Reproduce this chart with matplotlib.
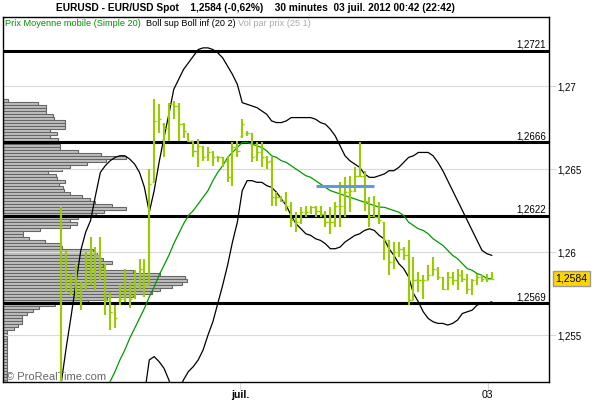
import matplotlib
matplotlib.use("Agg")
import matplotlib.pyplot as plt
import matplotlib.transforms as mtransforms
import numpy as np

plt.rcParams["font.family"] = ["Liberation Sans", "DejaVu Sans"]

NAN = np.nan

# EUR/USD 30 minute bars, oldest first
opens = [
    1.2511, 1.2595, 1.2580, 1.2583, 1.2577, 1.2580, 1.2594, 1.2589, 1.2598, 1.2590,
    1.2571, 1.2564, 1.2571, 1.2572, 1.2577, 1.2574, 1.2580, 1.2590, 1.2580, 1.2642,
    1.2679, 1.2677, 1.2675, 1.2689, 1.2688, 1.2677, 1.2672, 1.2667, 1.2661, 1.2664,
    1.2658, 1.2660, 1.2657, 1.2657, 1.2655, 1.2645, 1.2663, 1.2670, 1.2672, 1.2672,
    1.2658, 1.2660, 1.2657, 1.2655, 1.2633, 1.2633, 1.2631, 1.2628, 1.2619, 1.2618,
    1.2624, 1.2624, 1.2627, 1.2625, 1.2623, 1.2618, 1.2618, 1.2628, 1.2628, 1.2636,
    1.2637, 1.2646, 1.2646, 1.2631, 1.2622, 1.2621, 1.2618, 1.2607, 1.2594, 1.2600,
    1.2602, 1.2598, 1.2571, 1.2583, 1.2583, 1.2583, 1.2586, 1.2590, 1.2585, 1.2578,
    1.2585, 1.2583, 1.2586, 1.2584, 1.2578, 1.2583, 1.2585, 1.2584, 1.2584,
]
highs = [
    1.2627, 1.2601, 1.2587, 1.2593, 1.2582, 1.2600, 1.2609, 1.2603, 1.2609, 1.2593,
    1.2576, 1.2568, 1.2580, 1.2590, 1.2582, 1.2589, 1.2596, 1.2596, 1.2650, 1.2692,
    1.2689, 1.2678, 1.2690, 1.2691, 1.2690, 1.2678, 1.2672, 1.2667, 1.2668, 1.2664,
    1.2663, 1.2661, 1.2658, 1.2657, 1.2658, 1.2666, 1.2667, 1.2680, 1.2673, 1.2672,
    1.2666, 1.2666, 1.2658, 1.2657, 1.2636, 1.2634, 1.2636, 1.2630, 1.2624, 1.2627,
    1.2628, 1.2628, 1.2628, 1.2628, 1.2625, 1.2627, 1.2630, 1.2642, 1.2645, 1.2646,
    1.2651, 1.2666, 1.2649, 1.2633, 1.2634, 1.2630, 1.2618, 1.2607, 1.2606, 1.2606,
    1.2603, 1.2607, 1.2597, 1.2588, 1.2586, 1.2592, 1.2597, 1.2591, 1.2585, 1.2588,
    1.2588, 1.2590, 1.2589, 1.2587, 1.2584, 1.2587, 1.2586, 1.2587, 1.2588,
]
lows = [
    1.2499, 1.2576, 1.2574, 1.2572, 1.2565, 1.2577, 1.2580, 1.2577, 1.2583, 1.2562,
    1.2553, 1.2554, 1.2568, 1.2570, 1.2566, 1.2572, 1.2577, 1.2573, 1.2580, 1.2642,
    1.2672, 1.2657, 1.2667, 1.2680, 1.2667, 1.2669, 1.2666, 1.2657, 1.2651, 1.2655,
    1.2655, 1.2652, 1.2654, 1.2651, 1.2642, 1.2640, 1.2657, 1.2669, 1.2670, 1.2654,
    1.2655, 1.2651, 1.2650, 1.2628, 1.2628, 1.2630, 1.2625, 1.2615, 1.2612, 1.2617,
    1.2621, 1.2623, 1.2621, 1.2621, 1.2615, 1.2611, 1.2615, 1.2615, 1.2621, 1.2624,
    1.2636, 1.2645, 1.2625, 1.2615, 1.2621, 1.2617, 1.2595, 1.2586, 1.2590, 1.2597,
    1.2595, 1.2568, 1.2571, 1.2576, 1.2572, 1.2583, 1.2586, 1.2583, 1.2577, 1.2577,
    1.2580, 1.2577, 1.2582, 1.2575, 1.2574, 1.2580, 1.2582, 1.2582, 1.2584,
]
closes = [
    1.2595, 1.2580, 1.2583, 1.2577, 1.2580, 1.2594, 1.2589, 1.2598, 1.2590, 1.2571,
    1.2564, 1.2560, 1.2572, 1.2577, 1.2572, 1.2580, 1.2590, 1.2580, 1.2641, 1.2679,
    1.2680, 1.2675, 1.2689, 1.2688, 1.2677, 1.2673, 1.2667, 1.2661, 1.2664, 1.2657,
    1.2660, 1.2657, 1.2657, 1.2655, 1.2645, 1.2663, 1.2661, 1.2677, 1.2672, 1.2657,
    1.2660, 1.2657, 1.2654, 1.2633, 1.2633, 1.2631, 1.2628, 1.2619, 1.2618, 1.2624,
    1.2624, 1.2627, 1.2625, 1.2623, 1.2618, 1.2618, 1.2628, 1.2628, 1.2636, 1.2637,
    1.2646, 1.2646, 1.2631, 1.2622, 1.2621, 1.2619, 1.2607, 1.2594, 1.2600, 1.2602,
    1.2598, 1.2571, 1.2583, 1.2583, 1.2583, 1.2586, 1.2590, 1.2585, 1.2578, 1.2585,
    1.2583, 1.2586, 1.2584, 1.2578, 1.2583, 1.2585, 1.2584, 1.2584, 1.2584,
]

# indicator values as drawn on the chart
sma20 = [
    NAN, NAN, NAN, NAN, NAN, NAN, NAN, NAN, NAN, 1.2516,
    1.2522, 1.2528, 1.2535, 1.2541, 1.2548, 1.2554, 1.2560, 1.2566, 1.2573, 1.2579,
    1.2586, 1.2592, 1.2598, 1.2605, 1.2611, 1.2617, 1.2622, 1.2625, 1.2629, 1.2633,
    1.2637, 1.2643, 1.2648, 1.2652, 1.2657, 1.2660, 1.2663, 1.2666, 1.2666, 1.2665,
    1.2664, 1.2663, 1.2661, 1.2658, 1.2657, 1.2655, 1.2654, 1.2652, 1.2650, 1.2648,
    1.2646, 1.2645, 1.2643, 1.2641, 1.2639, 1.2637, 1.2636, 1.2635, 1.2634, 1.2633,
    1.2632, 1.2631, 1.2630, 1.2629, 1.2628, 1.2627, 1.2627, 1.2626, 1.2625, 1.2624,
    1.2622, 1.2618, 1.2616, 1.2614, 1.2613, 1.2611, 1.2608, 1.2606, 1.2604, 1.2601,
    1.2598, 1.2596, 1.2593, 1.2590, 1.2589, 1.2587, 1.2586, 1.2584, 1.2584,
]
boll_sup = [
    1.2521, 1.2542, 1.2561, 1.2581, 1.2601, 1.2612, 1.2619, 1.2634, 1.2648, 1.2652,
    1.2655, 1.2657, 1.2658, 1.2658, 1.2656, 1.2653, 1.2648, 1.2639, 1.2624, 1.2637,
    1.2654, 1.2669, 1.2683, 1.2698, 1.2704, 1.2710, 1.2714, 1.2718, 1.2722, 1.2723,
    1.2723, 1.2722, 1.2720, 1.2717, 1.2712, 1.2707, 1.2701, 1.2690, 1.2689, 1.2688,
    1.2687, 1.2685, 1.2683, 1.2679, 1.2678, 1.2678, 1.2679, 1.2681, 1.2681, 1.2681,
    1.2681, 1.2681, 1.2680, 1.2678, 1.2677, 1.2674, 1.2670, 1.2664, 1.2658, 1.2655,
    1.2653, 1.2651, 1.2647, 1.2645, 1.2645, 1.2646, 1.2647, 1.2649, 1.2649, 1.2651,
    1.2654, 1.2657, 1.2658, 1.2660, 1.2660, 1.2660, 1.2658, 1.2654, 1.2649, 1.2643,
    1.2637, 1.2631, 1.2625, 1.2619, 1.2613, 1.2607, 1.2601, 1.2599, 1.2598,
]
boll_inf = [
    NAN, NAN, NAN, NAN, NAN, NAN, NAN, NAN, NAN, NAN,
    NAN, NAN, NAN, NAN, NAN, NAN, 1.2505, 1.2514, 1.2535, 1.2537,
    1.2534, 1.2530, 1.2523, 1.2514, 1.2517, 1.2523, 1.2528, 1.2531, 1.2535, 1.2541,
    1.2550, 1.2558, 1.2569, 1.2580, 1.2592, 1.2606, 1.2618, 1.2637, 1.2643, 1.2643,
    1.2642, 1.2642, 1.2640, 1.2639, 1.2636, 1.2632, 1.2628, 1.2622, 1.2617, 1.2614,
    1.2611, 1.2610, 1.2608, 1.2607, 1.2605, 1.2602, 1.2602, 1.2603, 1.2606, 1.2608,
    1.2610, 1.2611, 1.2613, 1.2614, 1.2613, 1.2610, 1.2608, 1.2602, 1.2598, 1.2593,
    1.2590, 1.2585, 1.2575, 1.2570, 1.2564, 1.2560, 1.2558, 1.2557, 1.2557, 1.2556,
    1.2557, 1.2559, 1.2563, 1.2564, 1.2565, 1.2568, 1.2569, 1.2569, 1.2570,
]

# volume by price, top bin first
vol_top_price = 1.2691
vol_bin_step = 0.00018
vol_by_price = [
    5, 35, 43, 43, 43, 50, 51, 62, 62, 62,
    47, 54, 47, 55, 55, 57, 57, 75, 98, 123,
    103, 84, 67, 59, 45, 53, 54, 62, 56, 60,
    61, 67, 79, 87, 92, 109, 123, 101, 93, 75,
    67, 74, 67, 37, 20, 20, 26, 42, 58, 59,
    90, 94, 97, 100, 109, 100, 102, 130, 157, 182,
    184, 179, 169, 157, 149, 130, 104, 85, 52, 36,
    30, 24, 19, 19, 19, 15, 11, 4, 4, 4,
    4, 4, 4, 4, 4, 4, 4, 4, 4, 4,
    4, 4, 4, 4, 4,
]

levels = [1.2721, 1.2666, 1.2622, 1.2569]
level_labels = ["1,2721", "1,2666", "1,2622", "1,2569"]

segment_price = 1.2640
segment_start, segment_end = 52, 64

yticks = [1.255, 1.26, 1.265, 1.27]
ytick_labels = ["1,255", "1,26", "1,265", "1,27"]
xticks = [36.6, 87.2]
xtick_labels = ["juil.", "03"]
last_price = 1.2584
last_label = "1,2584"

COL_BAR = "#99cc00"
COL_MA = "#009900"
COL_GRID = "#d9d9d9"

fig = plt.figure(figsize=(6, 4), dpi=100)
ax = fig.add_axes([0.005, 0.045, 0.91, 0.9125])
ax_vol = ax.twiny()
ax.set_zorder(ax_vol.get_zorder() + 1)
ax.patch.set_visible(False)

# volume profile, drawn behind the prices
vol_prices = vol_top_price - vol_bin_step * np.arange(len(vol_by_price))
ax_vol.barh(vol_prices, vol_by_price, height=vol_bin_step, color="#c2c2c2",
            edgecolor="#666666", linewidth=0.8)
ax_vol.set_xlim(0, max(vol_by_price) / 0.337)
ax_vol.axis("off")

x = np.arange(len(closes))
ax.vlines(x, lows, highs, color=COL_BAR, linewidth=1.5, zorder=4)
ax.hlines(opens, x - 0.45, x, color=COL_BAR, linewidth=1, zorder=4)
ax.hlines(closes, x, x + 0.45, color=COL_BAR, linewidth=1, zorder=4)

ax.plot(x, sma20, color=COL_MA, linewidth=0.9, zorder=3)
ax.plot(x, boll_sup, color="black", linewidth=0.9, zorder=3)
ax.plot(x, boll_inf, color="black", linewidth=0.9, zorder=3)

blend = mtransforms.blended_transform_factory(ax.transAxes, ax.transData)
for lv, lab in zip(levels, level_labels):
    ax.axhline(lv, color="black", linewidth=2.2, zorder=2)
    ax.text(0.994, lv + 0.00008, lab, transform=blend, ha="right", va="bottom",
            fontsize=7)

ax.hlines(segment_price, segment_start, segment_end, color="#6495ed",
          linewidth=2.2, zorder=5)

ax.set_xlim(-11.9, 99.7)
ax.set_ylim(1.25217, 1.27416)

ax.yaxis.tick_right()
ax.set_yticks(yticks, ytick_labels)
ax.set_xticks(xticks, xtick_labels)
ax.get_xticklabels()[0].set_fontweight("bold")
ax.grid(axis="y", color=COL_GRID, linewidth=0.8)
ax.set_axisbelow(True)
ax.tick_params(axis="y", length=5, color=COL_GRID, labelsize=7, pad=1)
ax.tick_params(axis="x", length=5, color=COL_GRID, labelsize=7.5, pad=1)
for sp in ax.spines.values():
    sp.set_linewidth(1)
    sp.set_color("black")

ax.text(1.012, last_price, last_label, transform=blend, ha="left", va="center",
        fontsize=7.5, bbox=dict(boxstyle="square,pad=0.25", fc="#ffd700",
                                ec="#9a9a9a", lw=1))

ax.text(0.006, 0.006, "\u00a9 ProRealTime.com", transform=ax.transAxes,
        ha="left", va="baseline", fontsize=8, color="#666666")

fig.text(0.425, 0.979,
         "EURUSD - EUR/USD Spot    1,2584 (-0,62%)    30 minutes  03 juil. 2012 00:42 (22:42)",
         ha="center", va="center", fontsize=7.3, fontweight="bold")

legend_y = 1 - 24 / 400
fig.text(5 / 600, legend_y, "Prix Moyenne mobile (Simple 20)", color="#009000",
         fontsize=6.6, va="center")
fig.text(146 / 600, legend_y, "Boll sup Boll inf (20 2)", color="black",
         fontsize=6.6, va="center")
fig.text(238 / 600, legend_y, "Vol par prix (25 1)", color="#aaaaaa",
         fontsize=6.6, va="center")

fig.savefig("out.png", dpi=100)
